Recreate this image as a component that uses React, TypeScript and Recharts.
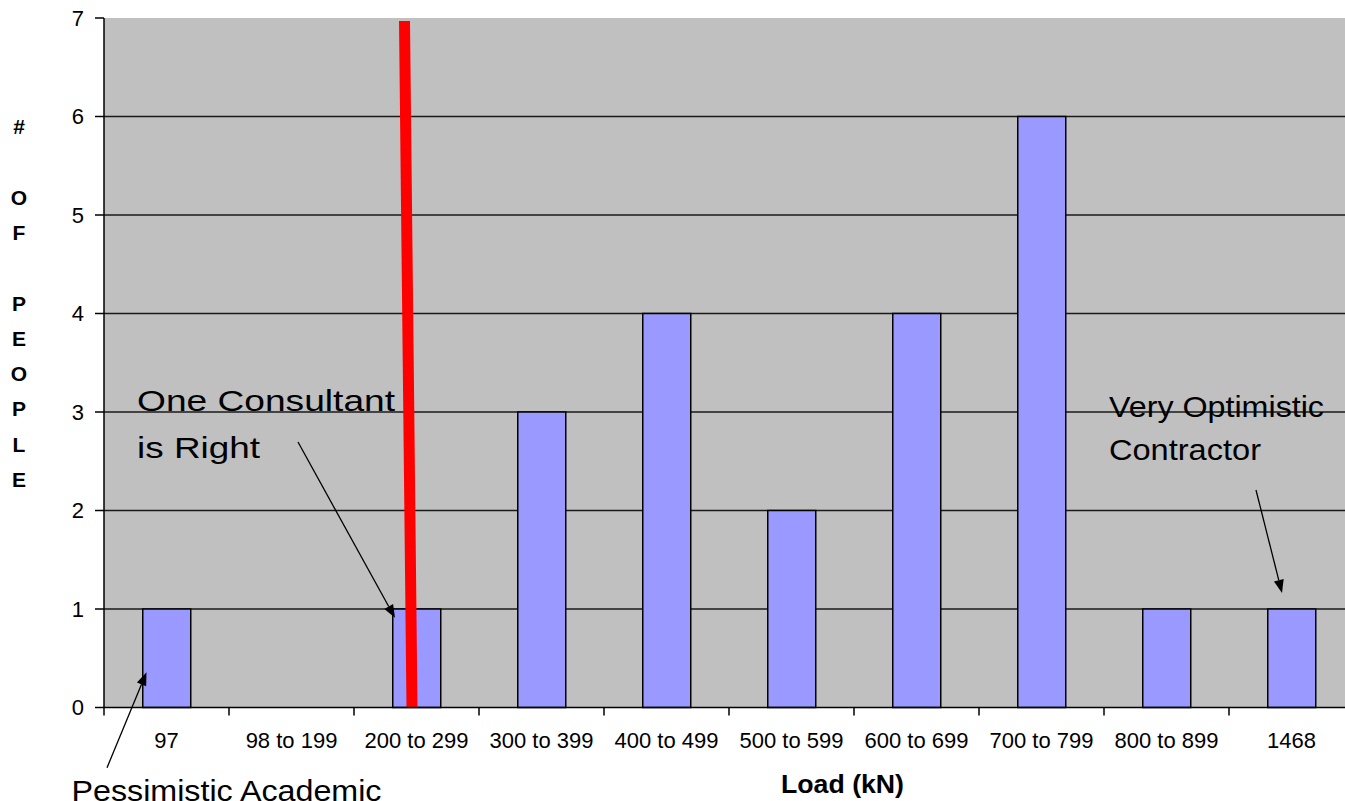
import React from "react";
import {
  BarChart,
  Bar,
  XAxis,
  YAxis,
  CartesianGrid,
  ReferenceLine,
  ReferenceDot,
} from "recharts";

// ---- data ----
const categories = [
  "97",
  "98 to 199",
  "200 to 299",
  "300 to 399",
  "400 to 499",
  "500 to 599",
  "600 to 699",
  "700 to 799",
  "800 to 899",
  "1468",
];
const counts = [1, 0, 1, 3, 4, 2, 4, 6, 1, 1];
const yTicks = [0, 1, 2, 3, 4, 5, 6, 7];
const gridValues = [1, 2, 3, 4, 5, 6];
const yLabelLines = ["#", "", "O", "F", "", "P", "E", "O", "P", "L", "E"];

const data = categories.map((c, i) => ({ category: c, count: counts[i], pos: i + 0.5 }));

// ---- annotations (data coordinates: x over the 0..10 category span, y in counts) ----
const redLine = [
  { x: 2.404, y: 6.97 },
  { x: 2.464, y: 0 },
];
const arrows = [
  { from: { x: 1.552, y: 2.695 }, to: { x: 2.328, y: 0.91 } },
  { from: { x: 0.024, y: -0.612 }, to: { x: 0.34, y: 0.357 } },
  { from: { x: 9.216, y: 2.208 }, to: { x: 9.424, y: 1.163 } },
];
const notes = [
  { x: 0.264, y: 3.013, lines: ["One Consultant", "is Right"], widths: [258, 123], gap: 47 },
  { x: 8.04, y: 2.949, lines: ["Very Optimistic", "Contractor"], widths: [215, 152], gap: 43 },
  { x: -0.26, y: -0.95, lines: ["Pessimistic Academic"], widths: [310], gap: 0 },
];
const xTitle = { x: 5.908, y: -0.866, text: "Load (kN)" };

const FONT = "'Liberation Sans', Arial, Helvetica, sans-serif";

const ArrowShape = (props: any) => {
  const { x1, y1, x2, y2 } = props;
  const ang = Math.atan2(y2 - y1, x2 - x1);
  const len = 13;
  const half = 5;
  const bx = x2 - len * Math.cos(ang);
  const by = y2 - len * Math.sin(ang);
  const px = -Math.sin(ang) * half;
  const py = Math.cos(ang) * half;
  return (
    <g>
      <line x1={x1} y1={y1} x2={bx} y2={by} stroke="#000" strokeWidth={1.3} />
      <polygon
        points={`${x2},${y2} ${bx + px},${by + py} ${bx - px},${by - py}`}
        fill="#000"
      />
    </g>
  );
};

const RedShape = (props: any) => {
  const { x1, y1, x2, y2 } = props;
  return <line x1={x1} y1={y1} x2={x2} y2={y2} stroke="#ff0000" strokeWidth={11} />;
};

const makeNoteShape = (note: typeof notes[number]) => (props: any) => {
  const { cx, cy } = props;
  return (
    <g>
      {note.lines.map((ln, i) => (
        <text
          key={i}
          x={cx}
          y={cy + i * note.gap}
          fontSize={30}
          fontFamily={FONT}
          fill="#000"
          textLength={note.widths[i]}
          lengthAdjust="spacingAndGlyphs"
        >
          {ln}
        </text>
      ))}
    </g>
  );
};

const TitleShape = (props: any) => {
  const { cx, cy } = props;
  return (
    <text
      x={cx}
      y={cy}
      textAnchor="middle"
      fontSize={25}
      fontWeight="bold"
      fontFamily={FONT}
      fill="#000"
      textLength={123}
      lengthAdjust="spacingAndGlyphs"
    >
      {xTitle.text}
    </text>
  );
};

const CategoryTick = (props: any) => {
  const { x, y, payload, width, visibleTicksCount } = props;
  const half =
    payload && typeof payload.offset === "number" && payload.offset > 0
      ? payload.offset
      : width / (visibleTicksCount || categories.length) / 2;
  const axisY = y - 8 - 17;
  return (
    <g>
      <line
        x1={x - half}
        y1={axisY}
        x2={x - half}
        y2={axisY + 8}
        stroke="#000"
        strokeWidth={1.5}
      />
      <text
        x={x}
        y={y}
        dy="0.71em"
        textAnchor="middle"
        fontSize={22}
        fontFamily={FONT}
        fill="#000"
      >
        {payload.value}
      </text>
    </g>
  );
};

const YLabel = (props: any) => {
  const vb = props.viewBox || { x: 0, y: 18 };
  const x = vb.x + 19;
  const y0 = vb.y + 116;
  return (
    <text fontSize={21} fontWeight="bold" fontFamily={FONT} fill="#000" textAnchor="middle">
      {yLabelLines.map((ch, i) =>
        ch ? (
          <tspan key={i} x={x} y={y0 + i * 35.3}>
            {ch}
          </tspan>
        ) : null
      )}
    </text>
  );
};

export default function App() {
  return (
    <div
      style={{
        position: "absolute",
        left: 0,
        top: 0,
        width: 1345,
        height: 801,
        overflow: "hidden",
        background: "#fff",
        fontFamily: FONT,
      }}
    >
      <BarChart
        width={1360}
        height={801}
        data={data}
        margin={{ top: 18, right: 6, left: 0, bottom: 33.5 }}
        barCategoryGap="31%"
      >
        <CartesianGrid
          vertical={false}
          horizontalValues={gridValues}
          stroke="#1a1a1a"
          strokeWidth={1.5}
          fill="#c0c0c0"
          fillOpacity={1}
        />
        <XAxis
          dataKey="category"
          interval={0}
          tickLine={false}
          axisLine={{ stroke: "#000", strokeWidth: 1.5 }}
          tickSize={8}
          tickMargin={17}
          height={60}
          tick={<CategoryTick />}
        />
        <XAxis
          xAxisId="num"
          dataKey="pos"
          type="number"
          domain={[0, 10]}
          allowDataOverflow
          hide
        />
        <YAxis
          width={104}
          domain={[0, 7]}
          ticks={yTicks}
          interval={0}
          tickSize={9}
          tickMargin={11}
          axisLine={{ stroke: "#000", strokeWidth: 1.5 }}
          tickLine={{ stroke: "#000", strokeWidth: 1.5 }}
          tick={{ fontSize: 22, fill: "#000", fontFamily: FONT }}
          label={<YLabel />}
        />
        <Bar
          dataKey="count"
          fill="#9999ff"
          stroke="#000"
          strokeWidth={1.5}
          isAnimationActive={false}
        />
        <ReferenceLine
          xAxisId="num"
          segment={redLine}
          ifOverflow="visible"
          shape={RedShape}
        />
        {arrows.map((a, i) => (
          <ReferenceLine
            key={"a" + i}
            xAxisId="num"
            segment={[a.from, a.to]}
            ifOverflow="visible"
            shape={ArrowShape}
          />
        ))}
        {notes.map((n, i) => (
          <ReferenceDot
            key={"n" + i}
            xAxisId="num"
            x={n.x}
            y={n.y}
            r={0}
            ifOverflow="visible"
            shape={makeNoteShape(n)}
          />
        ))}
        <ReferenceDot
          xAxisId="num"
          x={xTitle.x}
          y={xTitle.y}
          r={0}
          ifOverflow="visible"
          shape={TitleShape}
        />
      </BarChart>
    </div>
  );
}
